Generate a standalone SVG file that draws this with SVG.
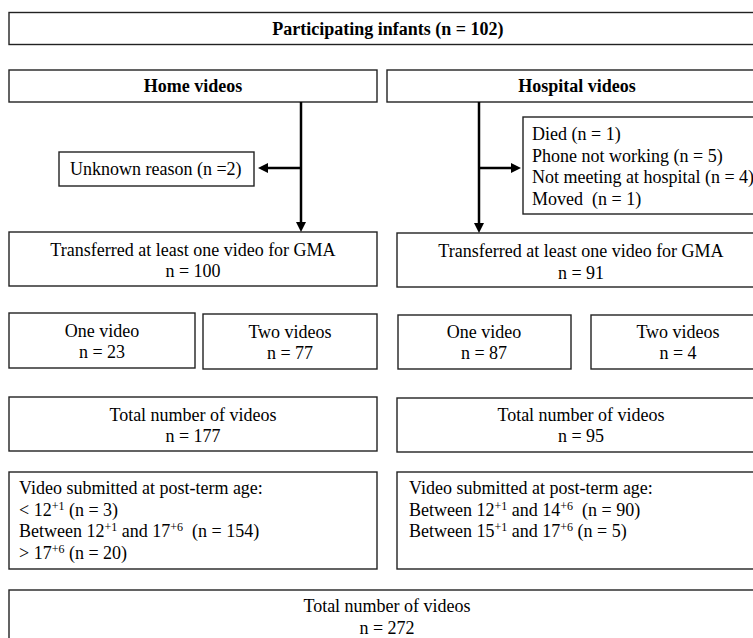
<svg xmlns="http://www.w3.org/2000/svg" width="753" height="638" viewBox="0 0 753 638">
<defs>
<style>
.box{fill:#fff;stroke:#222;stroke-width:1.4}
text{font-family:"Liberation Serif","Times New Roman",serif;font-size:18px;fill:#000;white-space:pre}
.b{font-weight:bold}
.c{text-anchor:middle}
.sup{font-size:12px}
.conn{stroke:#000;stroke-width:2.5;fill:none}
</style>
<marker id="ah" markerUnits="userSpaceOnUse" markerWidth="12" markerHeight="12" refX="2" refY="5" orient="auto">
<path d="M0,0 L10,5 L0,10 z" fill="#000"/>
</marker>
</defs>
<rect width="753" height="638" fill="#fff"/>

<g id="participants">
<rect class="box" x="9" y="12.5" width="758" height="32"/>
<text class="b c" x="388" y="35">Participating infants (n = 102)</text>
</g>

<g id="home">
<rect class="box" x="9" y="70" width="368" height="32"/>
<text class="b c" x="193" y="92">Home videos</text>
</g>

<g id="hospital">
<rect class="box" x="387" y="70" width="380" height="32"/>
<text class="b c" x="577" y="92">Hospital videos</text>
</g>

<g id="unknown">
<rect class="box" x="59" y="152" width="195" height="34"/>
<text x="70" y="175">Unknown reason (n =2)</text>
</g>

<g id="excluded-hospital">
<rect class="box" x="523" y="117" width="244" height="97"/>
<text x="532" y="140">Died (n = 1)</text>
<text x="532" y="161.5">Phone not working (n = 5)</text>
<text x="532" y="183">Not meeting at hospital (n = 4)</text>
<text x="532" y="204.5">Moved  (n = 1)</text>
</g>

<g id="transferred-home">
<rect class="box" x="9" y="232" width="368" height="54"/>
<text class="c" x="193" y="256">Transferred at least one video for GMA</text>
<text class="c" x="193" y="277">n = 100</text>
</g>

<g id="transferred-hospital">
<rect class="box" x="397" y="233" width="370" height="54"/>
<text class="c" x="581" y="257">Transferred at least one video for GMA</text>
<text class="c" x="581" y="279">n = 91</text>
</g>

<g id="home-one">
<rect class="box" x="9" y="313" width="186" height="55"/>
<text class="c" x="102" y="337">One video</text>
<text class="c" x="102" y="358">n = 23</text>
</g>

<g id="home-two">
<rect class="box" x="203" y="314" width="174" height="55"/>
<text class="c" x="290" y="338">Two videos</text>
<text class="c" x="290" y="359">n = 77</text>
</g>

<g id="hospital-one">
<rect class="box" x="398" y="315" width="173" height="54"/>
<text class="c" x="484" y="338">One video</text>
<text class="c" x="484" y="359">n = 87</text>
</g>

<g id="hospital-two">
<rect class="box" x="591" y="315" width="176" height="54"/>
<text class="c" x="678" y="338">Two videos</text>
<text class="c" x="678" y="359">n = 4</text>
</g>

<g id="total-home">
<rect class="box" x="9" y="397" width="368" height="54"/>
<text class="c" x="193" y="421">Total number of videos</text>
<text class="c" x="193" y="442">n = 177</text>
</g>

<g id="total-hospital">
<rect class="box" x="397" y="398" width="370" height="54"/>
<text class="c" x="581" y="421">Total number of videos</text>
<text class="c" x="581" y="442">n = 95</text>
</g>

<g id="age-home">
<rect class="box" x="9" y="472" width="368" height="97"/>
<text x="19" y="494">Video submitted at post-term age:</text>
<text x="19" y="515.5">&lt; 12<tspan class="sup" dy="-6">+1</tspan><tspan dy="6"> (n = 3)</tspan></text>
<text x="19" y="537">Between 12<tspan class="sup" dy="-6">+1</tspan><tspan dy="6"> and 17</tspan><tspan class="sup" dy="-6">+6</tspan><tspan dy="6">  (n = 154)</tspan></text>
<text x="19" y="558.5">&gt; 17<tspan class="sup" dy="-6">+6</tspan><tspan dy="6"> (n = 20)</tspan></text>
</g>

<g id="age-hospital">
<rect class="box" x="397" y="472" width="370" height="97"/>
<text x="409" y="494">Video submitted at post-term age:</text>
<text x="409" y="515.5">Between 12<tspan class="sup" dy="-6">+1</tspan><tspan dy="6"> and 14</tspan><tspan class="sup" dy="-6">+6</tspan><tspan dy="6">  (n = 90)</tspan></text>
<text x="409" y="537">Between 15<tspan class="sup" dy="-6">+1</tspan><tspan dy="6"> and 17</tspan><tspan class="sup" dy="-6">+6</tspan><tspan dy="6"> (n = 5)</tspan></text>
</g>

<g id="total-all">
<rect class="box" x="9" y="590" width="758" height="60"/>
<text class="c" x="387" y="612">Total number of videos</text>
<text class="c" x="387" y="634">n = 272</text>
</g>

<g id="connectors">
<line class="conn" x1="301" y1="102" x2="301" y2="224" marker-end="url(#ah)"/>
<line class="conn" x1="301" y1="168" x2="266" y2="168" marker-end="url(#ah)"/>
<line class="conn" x1="479" y1="102" x2="479" y2="225" marker-end="url(#ah)"/>
<line class="conn" x1="479" y1="168" x2="513" y2="168" marker-end="url(#ah)"/>
</g>
</svg>
